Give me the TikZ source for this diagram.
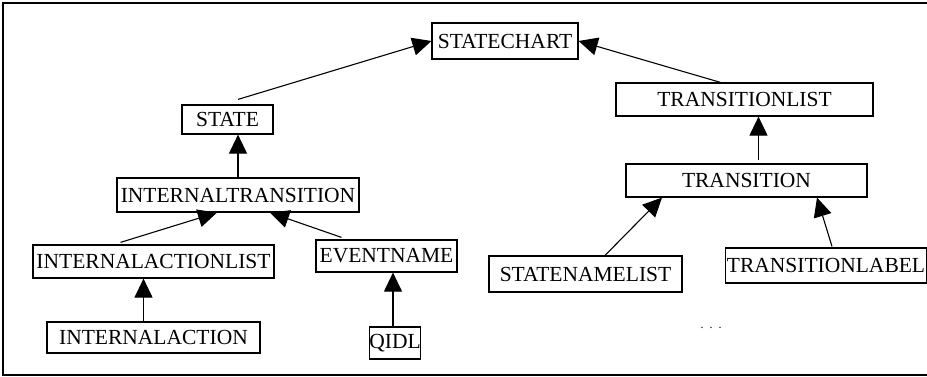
\documentclass[tikz,border=0pt]{standalone}
\usepackage{fontspec}
\setmainfont{Liberation Serif}
\usetikzlibrary{arrows.meta}

\begin{document}
\begin{tikzpicture}[x=1pt,y=-1pt]
\tikzstyle{part} = [rectangle, draw, line width=1.2pt, inner xsep=1pt, inner ysep=0pt, text centered, font=\fontsize{21.5}{24}\selectfont]
\tikzstyle{link} = [line width=1.1pt, -{Triangle[length=19pt,width=18pt]}]

\useasboundingbox (0,0) rectangle (927,377);
\draw[line width=1.6pt] (927,3) -- (3,3) -- (3,375) -- (927,375);

% left branch
\node (statechart) [part, minimum width=146pt, minimum height=36pt] at (505,41) {STATECHART};
\node (state) [part, minimum width=91pt, minimum height=29pt] at (227.5,119.5) {STATE};
\node (inttransition) [part, minimum width=242pt, minimum height=34pt] at (238,195) {INTERNALTRANSITION};
\node (intactionlist) [part, minimum width=241pt, minimum height=33pt] at (153.5,261.5) {INTERNALACTIONLIST};
\node (eventname) [part, minimum width=141pt, minimum height=32pt] at (386.5,256) {EVENTNAME};
\node (intaction) [part, minimum width=213pt, minimum height=31pt] at (153.5,337.5) {INTERNALACTION};
\node (qidl) [part, inner xsep=0pt, minimum width=44pt, minimum height=32pt] at (395,343) {QIDL};

% right branch
\node (transitionlist) [part, minimum width=257pt, minimum height=33pt] at (744.5,99.5) {TRANSITIONLIST};
\node (transition) [part, minimum width=241pt, minimum height=33pt] at (746.5,180.5) {TRANSITION};
\node (statenamelist) [part, minimum width=193pt, minimum height=36pt] at (585.5,274) {STATENAMELIST};
\node (transitionlabel) [part, minimum width=201pt, minimum height=35pt] at (826,265.5) {TRANSITIONLABEL};
\node (dots) [font=\fontsize{12}{14}\selectfont] at (711,328) {.\ \ .\ \ .};

\draw[link] ([xshift=10.5pt,yshift=5pt]state.north) -- (statechart.west);
\draw[link] ([xshift=-24pt]transitionlist.north) -- (statechart.east);
\draw[link] (inttransition.north) -- (inttransition.north |- state.south);
\draw[link] ([xshift=-33pt,yshift=2pt]intactionlist.north) -- ([xshift=-21pt]inttransition.south);
\draw[link] ([xshift=-45pt,yshift=2pt]eventname.north) -- ([xshift=32pt]inttransition.south);
\draw[link] ([xshift=-10pt]intaction.north) -- ([xshift=-10pt]intactionlist.south);
\draw[link] ([xshift=-2pt]qidl.north) -- ([xshift=-2pt]qidl.north |- eventname.south);
\draw[link] ([xshift=12pt,yshift=3pt]transition.north) -- ([xshift=12pt]transition.north |- transitionlist.south);
\draw[link] ([xshift=19.5pt]statenamelist.north) -- ([xshift=-84.5pt]transition.south);
\draw[link] ([xshift=6pt,yshift=1pt]transitionlabel.north) -- ([xshift=70.5pt]transition.south);
\end{tikzpicture}
\end{document}
